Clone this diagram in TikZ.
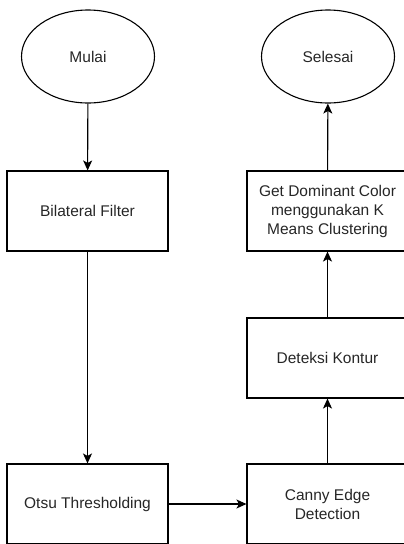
\documentclass[tikz,border=0pt]{standalone}
\usepackage{fontspec}
\setmainfont{Liberation Sans}
\usetikzlibrary{arrows.meta,shapes.geometric}
\begin{document}
\begin{tikzpicture}[x=1pt,y=-1pt,
  every node/.style={font=\fontsize{15.5}{19}\selectfont, text=black!85, align=center},
  term/.style={draw, ellipse, line width=1.1pt, minimum width=133pt, minimum height=93pt, inner sep=0pt},
  proc/.style={draw, rectangle, line width=1.1pt, minimum width=161pt, minimum height=80pt, inner sep=0pt},
  conn/.style={line width=1.1pt, -{Stealth[length=10pt,width=9pt,inset=2.5pt]}}]
\useasboundingbox (0,0) rectangle (404,544);
\clip (0,0) rectangle (404,544);
\node[term] (mulai) at (88,56.5) {Mulai};
\node[term] (selesai) at (328,56.5) {Selesai};
\node[proc] (bilateral) at (87.5,211) {Bilateral Filter};
\node[proc] (otsu) at (87.5,504) {Otsu Thresholding};
\node[proc] (dominant) at (327.5,211) {Get Dominant Color\\menggunakan K\\Means Clustering};
\node[proc] (kontur) at (327.5,358) {Deteksi Kontur};
\node[proc] (canny) at (327.5,504) {Canny Edge\\Detection};
\draw[conn] (mulai) -- (bilateral);
\draw[conn] (bilateral) -- (otsu);
\draw[conn] (otsu) -- (canny);
\draw[conn] (canny) -- (kontur);
\draw[conn] (kontur) -- (dominant);
\draw[conn] (dominant) -- (selesai);
\end{tikzpicture}
\end{document}
